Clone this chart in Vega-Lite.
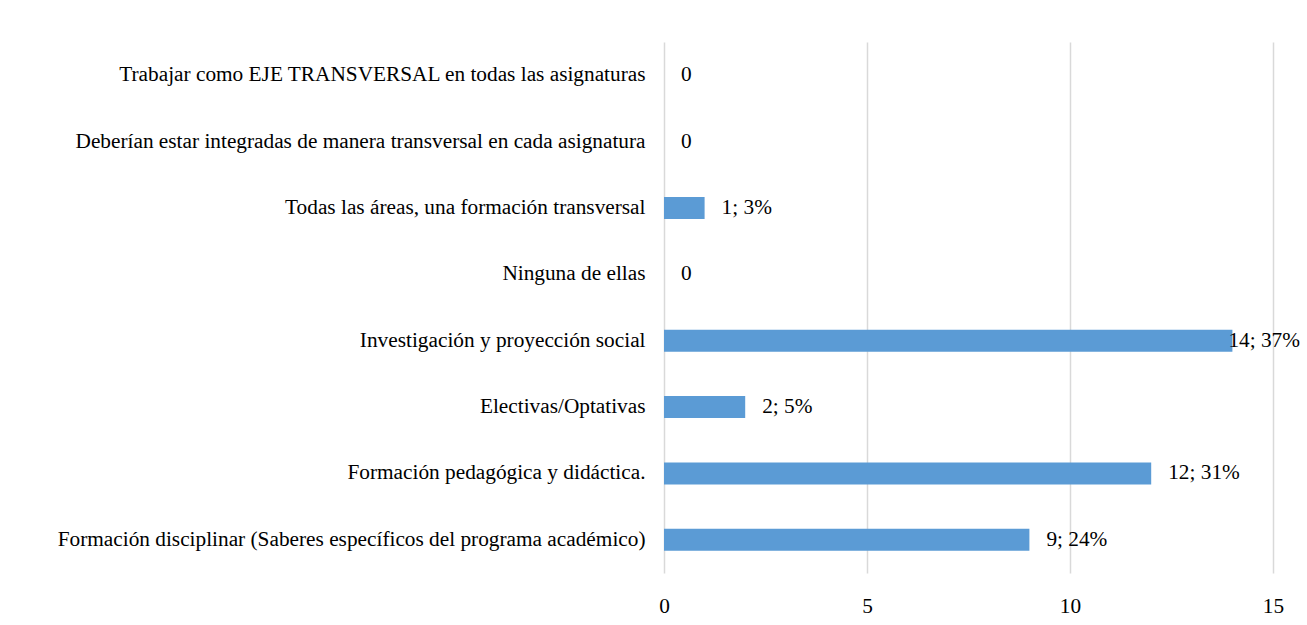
{
  "$schema": "https://vega.github.io/schema/vega-lite/v6.json",
  "autosize": "none",
  "width": 609,
  "height": 531,
  "padding": {"left": 664, "top": 42, "right": 34, "bottom": 52},
  "background": "white",
  "config": {
    "view": {"stroke": null},
    "font": "Liberation Serif",
    "axis": {"labelFont": "Liberation Serif", "labelColor": "#000000", "labelFontSize": 21.3}
  },
  "data": {
    "values": [
      {"cat": "Trabajar como EJE TRANSVERSAL en todas las asignaturas", "n": 0, "label": "0"},
      {"cat": "Deberían estar integradas de manera transversal en cada asignatura", "n": 0, "label": "0"},
      {"cat": "Todas las áreas, una formación transversal", "n": 1, "label": "1; 3%"},
      {"cat": "Ninguna de ellas", "n": 0, "label": "0"},
      {"cat": "Investigación y proyección social", "n": 14, "label": "14; 37%"},
      {"cat": "Electivas/Optativas", "n": 2, "label": "2; 5%"},
      {"cat": "Formación pedagógica y didáctica.", "n": 12, "label": "12; 31%"},
      {"cat": "Formación disciplinar (Saberes específicos del programa académico)", "n": 9, "label": "9; 24%"}
    ]
  },
  "encoding": {
    "y": {
      "field": "cat", "type": "nominal", "sort": null, "title": null,
      "scale": {"paddingInner": 0.67, "paddingOuter": 0.335},
      "axis": {"domain": false, "ticks": false, "labelPadding": 19, "labelLimit": 0, "grid": false}
    },
    "x": {
      "field": "n", "type": "quantitative", "title": null,
      "scale": {"domain": [0, 15], "nice": false},
      "axis": {"values": [0, 5, 10, 15], "domain": false, "ticks": false, "grid": true, "gridColor": "#d9d9d9", "gridWidth": 1.5, "labelPadding": 22, "labelFlush": false, "labelFontSize": 21.3}
    }
  },
  "layer": [
    {"mark": {"type": "bar", "color": "#5b9bd5"}},
    {
      "transform": [{"filter": "datum.n < 14"}],
      "mark": {"type": "text", "align": "left", "baseline": "middle", "dx": 17, "fontSize": 21.3, "color": "#000000"},
      "encoding": {"text": {"field": "label"}}
    },
    {
      "transform": [{"filter": "datum.n >= 14"}],
      "mark": {"type": "text", "align": "left", "baseline": "middle", "dx": -4, "fontSize": 21.3, "color": "#000000"},
      "encoding": {"text": {"field": "label"}}
    }
  ]
}
